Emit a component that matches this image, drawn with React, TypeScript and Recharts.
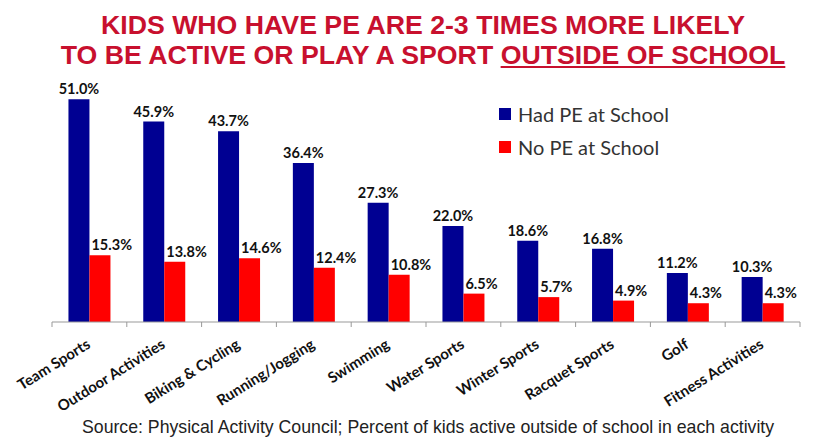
import React from "react";
import { BarChart, Bar, XAxis, YAxis, LabelList } from "recharts";

const categories = [
  "Team Sports",
  "Outdoor Activities",
  "Biking & Cycling",
  "Running/Jogging",
  "Swimming",
  "Water Sports",
  "Winter Sports",
  "Racquet Sports",
  "Golf",
  "Fitness Activities",
];
const hadPE = [51.0, 45.9, 43.7, 36.4, 27.3, 22.0, 18.6, 16.8, 11.2, 10.3];
const noPE = [15.3, 13.8, 14.6, 12.4, 10.8, 6.5, 5.7, 4.9, 4.3, 4.3];
const seriesNames = ["Had PE at School", "No PE at School"];

const data = categories.map((c, i) => ({ name: c, had: hadPE[i], no: noPE[i] }));

const BLUE = "#000092";
const RED = "#ff0000";
const W = 820;
const H = 443;
const LEFT = 52;
const RIGHT = 20;
const BAND = (W - LEFT - RIGHT) / categories.length;

const CatTick = (props: any) => {
  const { x, y, payload, index } = props;
  return (
    <g>
      <line x1={x - BAND / 2} y1={y - 8} x2={x - BAND / 2} y2={y - 3} stroke="#999" />
      {index === categories.length - 1 && (
        <line x1={x + BAND / 2} y1={y - 8} x2={x + BAND / 2} y2={y - 3} stroke="#999" />
      )}
      <text
        x={0}
        y={0}
        transform={`translate(${x + 2},${y + 17}) rotate(-32)`}
        textAnchor="end"
        fontFamily="Lato, sans-serif"
        fontWeight={700}
        fontSize={15}
        fill="#111"
      >
        {payload.value}
      </text>
    </g>
  );
};

const BlueLabel = (props: any) => {
  const { x, y, width, value } = props;
  return (
    <text x={x + width / 2} y={y - 5} textAnchor="middle" fontFamily="Lato, sans-serif" fontWeight={700} fontSize={14.5} fill="#111">
      {value.toFixed(1)}%
    </text>
  );
};

const RedLabel = (props: any) => {
  const { x, y, value } = props;
  return (
    <text x={x + 2} y={y - 5} textAnchor="start" fontFamily="Lato, sans-serif" fontWeight={700} fontSize={14.5} fill="#111">
      {value.toFixed(1)}%
    </text>
  );
};

export default function App() {
  return (
    <div style={{ position: "absolute", left: 0, top: 0, width: W, height: H, background: "#ffffff", overflow: "hidden" }}>
      <div
        style={{
          position: "absolute",
          left: 13,
          top: 10,
          width: W,
          textAlign: "center",
          fontFamily: '"Liberation Sans", Arial, sans-serif',
          fontWeight: 700,
          fontSize: 26.7,
          lineHeight: "30px",
          color: "#c8102e",
          whiteSpace: "nowrap",
        }}
      >
        <div>KIDS WHO HAVE PE ARE 2-3 TIMES MORE LIKELY</div>
        <div>
          TO BE ACTIVE OR PLAY A SPORT <span style={{ textDecoration: "underline" }}>OUTSIDE OF SCHOOL</span>
        </div>
      </div>
      <BarChart
        width={W}
        height={H}
        data={data}
        margin={{ top: 60, right: RIGHT, left: LEFT, bottom: 21 }}
        barCategoryGap="22%"
        barGap={0}
      >
        <YAxis hide domain={[0, 60]} />
        <XAxis
          dataKey="name"
          interval={0}
          height={100}
          axisLine={{ stroke: "#999" }}
          tickLine={false}
          tick={<CatTick />}
        />
        <Bar dataKey="had" name={seriesNames[0]} fill={BLUE} isAnimationActive={false}>
          <LabelList dataKey="had" content={<BlueLabel />} />
        </Bar>
        <Bar dataKey="no" name={seriesNames[1]} fill={RED} isAnimationActive={false}>
          <LabelList dataKey="no" content={<RedLabel />} />
        </Bar>
      </BarChart>
      <div
        style={{
          position: "absolute",
          left: 499,
          top: 97,
          fontFamily: "Lato, sans-serif",
          fontSize: 20,
          color: "#333",
        }}
      >
        {seriesNames.map((n, i) => (
          <div key={n} style={{ display: "flex", alignItems: "center", height: 33 }}>
            <span style={{ width: 12, height: 12, background: i === 0 ? BLUE : RED, display: "inline-block", marginRight: 7 }} />
            <span>{n}</span>
          </div>
        ))}
      </div>
      <div
        style={{
          position: "absolute",
          left: 82,
          top: 417,
          fontFamily: '"Liberation Sans", Arial, sans-serif',
          fontSize: 17.7,
          color: "#222",
          whiteSpace: "nowrap",
        }}
      >
        Source: Physical Activity Council; Percent of kids active outside of school in each activity
      </div>
    </div>
  );
}
